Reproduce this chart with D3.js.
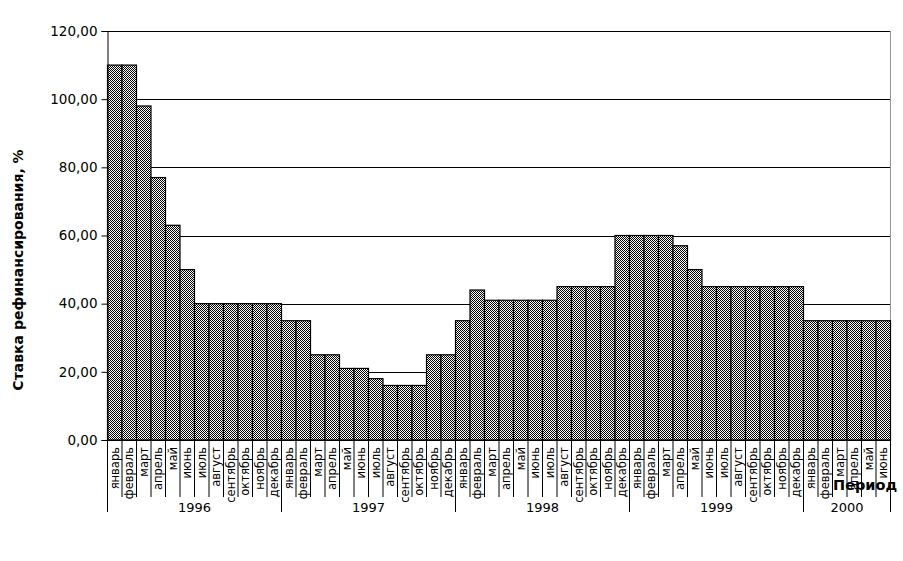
<!DOCTYPE html>
<html>
<head>
<meta charset="utf-8">
<script src="https://cdnjs.cloudflare.com/ajax/libs/d3/7.8.5/d3.min.js"></script>
<style>
	body { margin: 0; background: #fff; }
	svg { display: block; font-family: "DejaVu Sans", sans-serif; }
</style>
</head>
<body>
<svg id="chart" width="903" height="561"></svg>
<script>
var months = ["январь","февраль","март","апрель","май","июнь","июль","август","сентябрь","октябрь","ноябрь","декабрь"];
var years = ["1996","1997","1998","1999","2000"];
var monthsPerYear = [12,12,12,12,6];
var rates = [
	110,110,98,77,63,50,40,40,40,40,40,40,
	35,35,25,25,21,21,18,16,16,16,25,25,
	35,44,41,41,41,41,41,45,45,45,45,60,
	60,60,60,57,50,45,45,45,45,45,45,45,
	35,35,35,35,35,35
];
var yTicks = [0,20,40,60,80,100,120];

var drawChart = function(){
	// one entry per bar: which year and month it belongs to
	var data = [];
	var idx = 0;
	years.forEach(function(yr,yi){
		for (var m = 0; m < monthsPerYear[yi]; m++){
			data.push({i:idx, year:yr, month:months[m], value:rates[idx]});
			idx++;
		}
	});

	var plotLeft = 107.5, plotRight = 890.5, plotTop = 31, plotBottom = 440;

	var svg = d3.select("#chart");

	var defs = svg.append("defs");
	var pat = defs.append("pattern")
		.attr("id","checker")
		.attr("patternUnits","userSpaceOnUse")
		.attr("width",2)
		.attr("height",2);
	pat.append("rect").attr("width",2).attr("height",2).attr("fill","#fff");
	pat.append("rect").attr("x",0).attr("y",0).attr("width",1).attr("height",1).attr("fill","#000");
	pat.append("rect").attr("x",1).attr("y",1).attr("width",1).attr("height",1).attr("fill","#000");

	var x = d3.scaleBand()
		.domain(data.map(function(d){ return d.i; }))
		.range([plotLeft,plotRight])
		.padding(0);

	var y = d3.scaleLinear()
		.domain([0,120])
		.range([plotBottom,plotTop]);

	// gridlines
	svg.append("g")
		.selectAll("line")
		.data(yTicks.filter(function(t){ return t > 0; }))
		.enter().append("line")
			.attr("x1",plotLeft)
			.attr("x2",plotRight)
			.attr("y1",function(d){ return Math.round(y(d)) + 0.5; })
			.attr("y2",function(d){ return Math.round(y(d)) + 0.5; })
			.attr("stroke","#000")
			.attr("stroke-width",1);

	// right border of plot area
	svg.append("line")
		.attr("x1",plotRight).attr("x2",plotRight)
		.attr("y1",plotTop).attr("y2",plotBottom)
		.attr("stroke","#999")
		.attr("stroke-width",1);

	// bars
	svg.append("g")
		.selectAll("rect")
		.data(data)
		.enter().append("rect")
			.attr("x",function(d){ return x(d.i); })
			.attr("y",function(d){ return y(d.value); })
			.attr("width",x.bandwidth())
			.attr("height",function(d){ return y(0) - y(d.value); })
			.attr("fill","url(#checker)")
			.attr("stroke","#000")
			.attr("stroke-width",1.2);

	// y axis
	var yAxis = d3.axisLeft(y)
		.tickValues(yTicks)
		.tickSize(6)
		.tickPadding(4)
		.tickFormat(function(d){ return d3.format(".2f")(d).replace(".",","); });

	var gy = svg.append("g")
		.attr("transform","translate(" + plotLeft + ",0)")
		.call(yAxis);
	gy.select(".domain").attr("stroke","#000");
	gy.selectAll(".tick line").attr("stroke","#000");
	gy.selectAll("text")
		.attr("font-family","DejaVu Sans")
		.attr("font-size","13.5px")
		.attr("fill","#000");

	// x axis line
	svg.append("line")
		.attr("x1",plotLeft).attr("x2",plotRight)
		.attr("y1",plotBottom + 0.5).attr("y2",plotBottom + 0.5)
		.attr("stroke","#000");

	// month separators
	svg.append("g")
		.selectAll("line")
		.data(data.slice(1))
		.enter().append("line")
			.attr("x1",function(d){ return x(d.i); })
			.attr("x2",function(d){ return x(d.i); })
			.attr("y1",plotBottom)
			.attr("y2",497)
			.attr("stroke","#000");

	// year separators
	var yearStarts = [];
	var acc = 0;
	monthsPerYear.forEach(function(n,yi){
		yearStarts.push({year:years[yi], start:acc, count:n});
		acc += n;
	});
	var yearEdge = function(k){ return k >= data.length ? plotRight : x(k); };

	svg.append("g")
		.selectAll("line")
		.data(yearStarts.map(function(d){ return d.start; }).concat([data.length]))
		.enter().append("line")
			.attr("x1",function(d){ return yearEdge(d); })
			.attr("x2",function(d){ return yearEdge(d); })
			.attr("y1",plotBottom)
			.attr("y2",512)
			.attr("stroke","#000");

	// month labels
	svg.append("g")
		.selectAll("text")
		.data(data)
		.enter().append("text")
			.attr("transform",function(d){
				return "translate(" + (x(d.i) + x.bandwidth()/2) + ",447) rotate(-90)";
			})
			.attr("dy","0.36em")
			.attr("text-anchor","end")
			.attr("font-size","11.5px")
			.attr("fill","#000")
			.text(function(d){ return d.month; });

	// year labels
	svg.append("g")
		.selectAll("text")
		.data(yearStarts)
		.enter().append("text")
			.attr("x",function(d){ return (yearEdge(d.start) + yearEdge(d.start + d.count))/2; })
			.attr("y",512)
			.attr("text-anchor","middle")
			.attr("font-size","13px")
			.attr("fill","#000")
			.text(function(d){ return d.year; });

	// axis titles
	svg.append("text")
		.attr("transform","translate(23,270) rotate(-90)")
		.attr("text-anchor","middle")
		.attr("font-size","14px")
		.attr("font-weight","bold")
		.attr("fill","#000")
		.text("Ставка рефинансирования, %");

	svg.append("text")
		.attr("x",833)
		.attr("y",490)
		.attr("font-size","14.5px")
		.attr("font-weight","bold")
		.attr("fill","#000")
		.text("Период");
};

drawChart();
</script>
</body>
</html>
